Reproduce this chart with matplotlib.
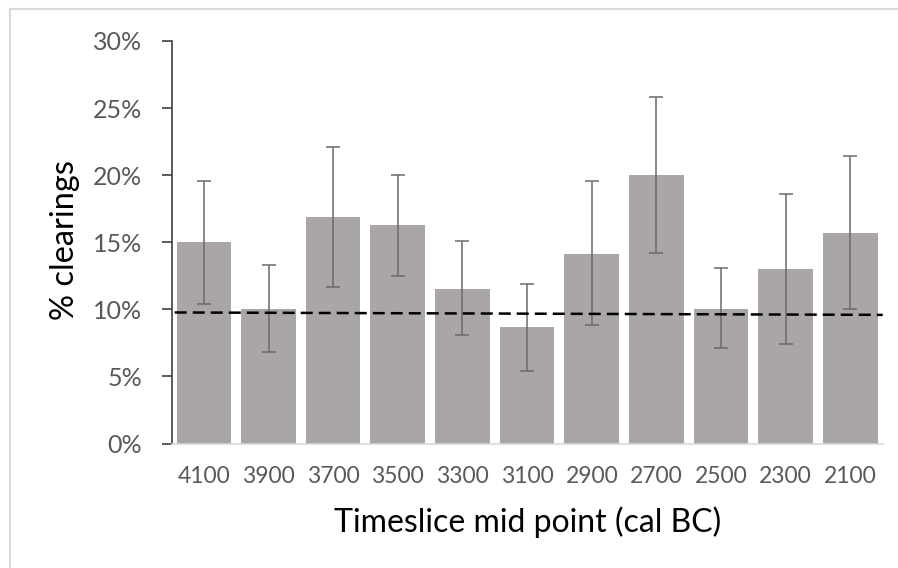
import matplotlib.pyplot as plt
from matplotlib.patches import Rectangle

plt.rcParams['font.family'] = ['Lato', 'DejaVu Sans']

timeslices = ["4100", "3900", "3700", "3500", "3300", "3100", "2900", "2700", "2500", "2300", "2100"]
pct_clearings = [15.0, 10.0, 16.9, 16.3, 11.5, 8.7, 14.1, 20.0, 10.0, 13.0, 15.7]
err_upper = [19.6, 13.3, 22.1, 20.0, 15.1, 11.9, 19.6, 25.8, 13.1, 18.6, 21.4]
err_lower = [10.4, 6.8, 11.7, 12.5, 8.1, 5.4, 8.8, 14.2, 7.1, 7.4, 10.0]
# dashed reference line: value at left and right end
baseline = [9.77, 9.59]

fig = plt.figure(figsize=(8.98, 5.68), dpi=100)
ax = fig.add_axes([0.191, 0.219, 0.792, 0.709])

xpos = list(range(len(timeslices)))
yerr = [[v - lo for v, lo in zip(pct_clearings, err_lower)],
        [hi - v for v, hi in zip(pct_clearings, err_upper)]]
ax.bar(xpos, pct_clearings, width=0.845, color="#aaa6a5", zorder=2)
ax.errorbar(xpos, pct_clearings, yerr=yerr, fmt="none", ecolor="#6b6868",
            elinewidth=1.1, capsize=5, capthick=1.1, zorder=3)

ax.set_xlim(-0.5, len(timeslices) - 0.5)
ax.set_ylim(0, 30)
ax.plot([-0.45, len(timeslices) - 0.5], baseline, color="black", lw=1.8,
        dashes=(4.8, 2.4), zorder=4)

ax.set_yticks(range(0, 31, 5))
ax.set_yticklabels([f"{t}%" for t in range(0, 31, 5)])
ax.set_xticks(xpos)
ax.set_xticklabels(timeslices)

ax.tick_params(axis="y", direction="out", length=7, width=1.2, color="#404040",
               labelsize=18, labelcolor="#595959", pad=14)
ax.tick_params(axis="x", length=0, labelsize=16.5, labelcolor="#595959", pad=16)

for s in ["top", "right"]:
    ax.spines[s].set_visible(False)
ax.spines["left"].set_color("#404040")
ax.spines["left"].set_linewidth(1.2)
ax.spines["bottom"].set_color("#d9d9d9")
ax.spines["bottom"].set_linewidth(1.2)

ax.set_ylabel("% clearings", fontsize=23.5, color="black")
ax.yaxis.set_label_coords(-0.129, 0.505)
ax.set_xlabel("Timeslice mid point (cal BC)", fontsize=23, color="black")
ax.xaxis.set_label_coords(0.5, -0.155)

# light grey frame around the chart area
fig.add_artist(Rectangle((9.5 / 898, -0.1), 1.2, 1.1 - 9.5 / 568, transform=fig.transFigure,
                         fill=False, edgecolor="#d9d9d9", lw=1.5))

fig.savefig("out.png", dpi=100)
